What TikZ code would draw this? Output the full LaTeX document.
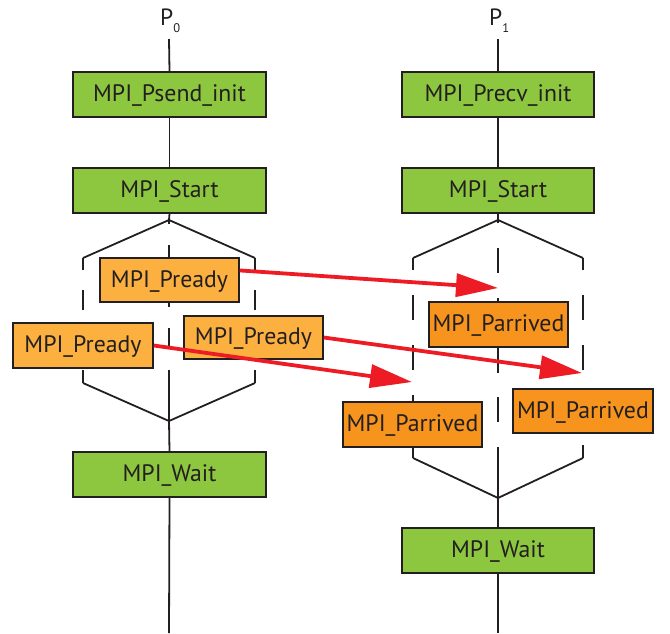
\documentclass[tikz,border=0pt]{standalone}
\usepackage{fontspec}
\setmainfont{PT Sans}
\usetikzlibrary{arrows.meta,calc}

\definecolor{ink}{HTML}{231F20}
\definecolor{callgreen}{HTML}{8DC63F}
\definecolor{readyorange}{HTML}{FBB040}
\definecolor{arrivedorange}{HTML}{F7941D}
\definecolor{msgred}{HTML}{ED1C24}

\begin{document}
\begin{tikzpicture}[x=1pt,y=-1pt,
  box/.style={draw=ink, line width=1.6pt, text=ink, inner sep=0pt,
    font=\fontsize{23.8}{25}\selectfont, text height=16.6pt, text depth=2pt,
    minimum height=45pt},
  callbox/.style={box, fill=callgreen, minimum width=193pt},
  readybox/.style={box, fill=readyorange, minimum width=139pt, minimum height=44pt},
  arrivedbox/.style={box, fill=arrivedorange, minimum width=139pt},
  proclabel/.style={anchor=base west, inner sep=0pt, text=ink,
    font=\fontsize{23.5}{25}\selectfont},
  life/.style={draw=ink, line width=1.8pt},
  syncL/.style={life, dash pattern=on 20pt off 20pt, dash phase=8pt},
  syncR/.style={life, dash pattern=on 25pt off 25pt, dash phase=13pt},
  msg/.style={draw=msgred, line width=3.8pt, -{Triangle[length=42pt,width=23pt]}}
]
\useasboundingbox (0,0) rectangle (670,633);

% ---------- process labels ----------
\node[proclabel] (p0) at (160,25) {P\raisebox{-7pt}{\fontsize{12.5}{13}\selectfont 0}};
\node[proclabel] (p1) at (489,25) {P\raisebox{-7pt}{\fontsize{12.5}{13}\selectfont 1}};

% ---------- lifeline and sync frame of P0 ----------
\coordinate (l0top) at (169,39);
\coordinate (lapex) at (169,220);
\coordinate (lnw) at (83,258);
\coordinate (lne) at (255,258);
\coordinate (lsw) at (83,383);
\coordinate (lse) at (255,383);
\coordinate (lbot) at (169,421);
\coordinate (l0end) at (169,633);

% ---------- lifeline and sync frame of P1 ----------
\coordinate (r0top) at (498,39);
\coordinate (rapex) at (498,220);
\coordinate (rnw) at (413,258);
\coordinate (rne) at (583,258);
\coordinate (rsw) at (413,458);
\coordinate (rse) at (583,458);
\coordinate (rbot) at (498,498);
\coordinate (r0end) at (498,633);

% ---------- green call boxes ----------
\node[callbox] (psend)  at (169.5,94.5)  {MPI\_Psend\_init};
\node[callbox] (startL) at (169.5,190.5) {MPI\_Start};
\node[callbox] (waitL)  at (169.5,474.5) {MPI\_Wait};
\node[callbox, minimum width=192pt] (precv)  at (498,94.5)  {MPI\_Precv\_init};
\node[callbox, minimum width=192pt] (startR) at (498,190.5) {MPI\_Start};
\node[callbox, minimum width=192pt] (waitR)  at (498,550.5) {MPI\_Wait};

% lifelines between the calls
\draw[life] (l0top) -- (psend.north);
\draw[life] (psend.south) -- (startL.north);
\draw[life] (startL.south) -- (lapex);
\draw[life] (lnw) -- (lapex) -- (lne);
\draw[life] (lsw) -- (lbot) -- (lse);
\draw[syncL] (lnw) -- (lsw);
\draw[syncL] (lne) -- (lse);
\draw[life, dash pattern=on 4pt off 21pt on 62pt off 21pt on 19pt off 23pt on 60pt] (lapex) -- (lbot);
\draw[life] (lbot) -- (waitL.north);
\draw[life] (waitL.south) -- (l0end);

\draw[life] (r0top) -- (precv.north);
\draw[life] (precv.south) -- (startR.north);
\draw[life] (startR.south) -- (rapex);
\draw[life] (rnw) -- (rapex) -- (rne);
\draw[life] (rsw) -- (rbot) -- (rse);
\draw[syncR] (rnw) -- (rsw);
\draw[syncR] (rne) -- (rse);
\draw[life, dash pattern=on 3pt off 25pt on 25pt off 25pt on 75pt off 24pt on 25pt off 25pt on 60pt] (rapex) -- (rbot);
\draw[life] (rbot) -- (waitR.north);
\draw[life] (waitR.south) -- (r0end);

% ---------- partition boxes ----------
\node[readybox] (ready1) at (169.5,280)   {MPI\_Pready};
\node[readybox, minimum width=140pt, minimum height=45pt] (ready2) at (83,345.5) {MPI\_Pready};
\node[readybox, minimum height=43.5pt] (ready3) at (253.5,337.5) {MPI\_Pready};

\node[arrivedbox] (arr1) at (498.5,324.5) {MPI\_Parrived};
\node[arrivedbox, minimum width=139.5pt] (arr2) at (412.5,424.5) {MPI\_Parrived};
\node[arrivedbox, minimum width=140pt, minimum height=44pt] (arr3) at (583,411) {MPI\_Parrived};

% ---------- messages ----------
\coordinate (tip1) at (498,288);
\coordinate (tip2) at (582,373);
\coordinate (tip3) at (412,382);
\draw[msg] ($(ready1.north east)!0.29!(ready1.south east)$) -- (tip1);
\draw[msg] (ready3.east) -- (tip2);
\draw[msg] (ready2.east) -- (tip3);
\end{tikzpicture}
\end{document}
